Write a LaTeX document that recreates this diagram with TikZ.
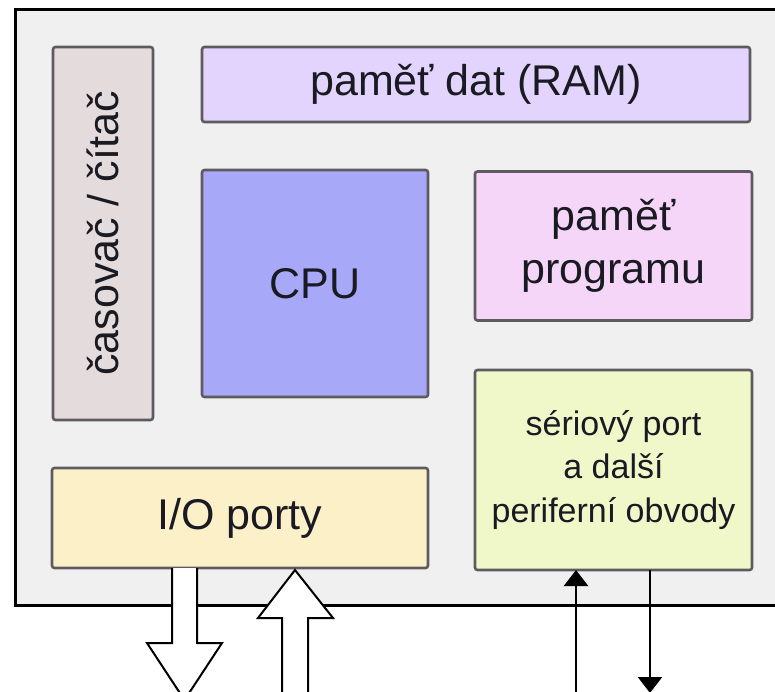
\documentclass[tikz,border=0pt]{standalone}
\usepackage{fontspec}
\setmainfont{Liberation Sans}
\usetikzlibrary{arrows.meta}
\definecolor{outerbg}{HTML}{F0F0F0}
\definecolor{timfill}{HTML}{E4DCDC}
\definecolor{ramfill}{HTML}{E2D4FC}
\definecolor{cpufill}{HTML}{A8A8F8}
\definecolor{progfill}{HTML}{F6D6F8}
\definecolor{serfill}{HTML}{F0F8CA}
\definecolor{iofill}{HTML}{FCF0C8}
\definecolor{edge}{HTML}{5E5A60}
\definecolor{txt}{HTML}{1A1A22}
\begin{document}
\begin{tikzpicture}[x=1pt,y=-1pt,
  blk/.style={draw=edge, line width=2.6pt, rounded corners=2.5pt, inner sep=0pt, outer sep=0pt,
    align=center, text=txt, font=\fontsize{43}{53}\selectfont},
  hollow/.style={draw=black, line width=2pt, fill=white, line join=miter},
  thinarr/.style={draw=black, line width=2.4pt, -{Triangle[length=16pt,width=24pt]}}
]
\useasboundingbox (0,0) rectangle (775,692);
\fill[white] (0,0) rectangle (775,692);
\draw[line width=3pt, fill=outerbg] (15,10) rectangle (800,605);

\node[blk, fill=timfill, rotate=90, minimum width=373, minimum height=100] (tim) at (103,233.5) {časovač / čítač};
\node[blk, fill=ramfill, minimum width=548, minimum height=75] (ram) at (476,84.5) {paměť dat (RAM)};
\node[blk, fill=cpufill, minimum width=226, minimum height=227] (cpu) at (315,283.5) {CPU};
\node[blk, fill=progfill, minimum width=277, minimum height=149] (prog) at (613.5,246) {paměť\\programu};
\node[blk, fill=serfill, minimum width=277, minimum height=200, font=\fontsize{34}{43.5}\selectfont] (ser) at (613.5,470) {sériový port\\a další\\periferní obvody};
\node[blk, fill=iofill, minimum width=376, minimum height=100] (io) at (240,518) {I/O porty};

% hollow arrows
\draw[hollow] (172,568) -- (172,643) -- (147,643) -- (184.5,700) -- (222,643) -- (197,643) -- (197,568);
\draw[hollow] (282,700) -- (282,618) -- (258,618) -- (295,570) -- (333,618) -- (308,618) -- (308,700);

% thin arrows
\coordinate (inb) at (576,700);
\coordinate (outb) at (650,693);
\draw[thinarr] (inb) -- (inb |- ser.south);
\draw[thinarr] (outb |- ser.south) -- (outb);
\end{tikzpicture}
\end{document}
